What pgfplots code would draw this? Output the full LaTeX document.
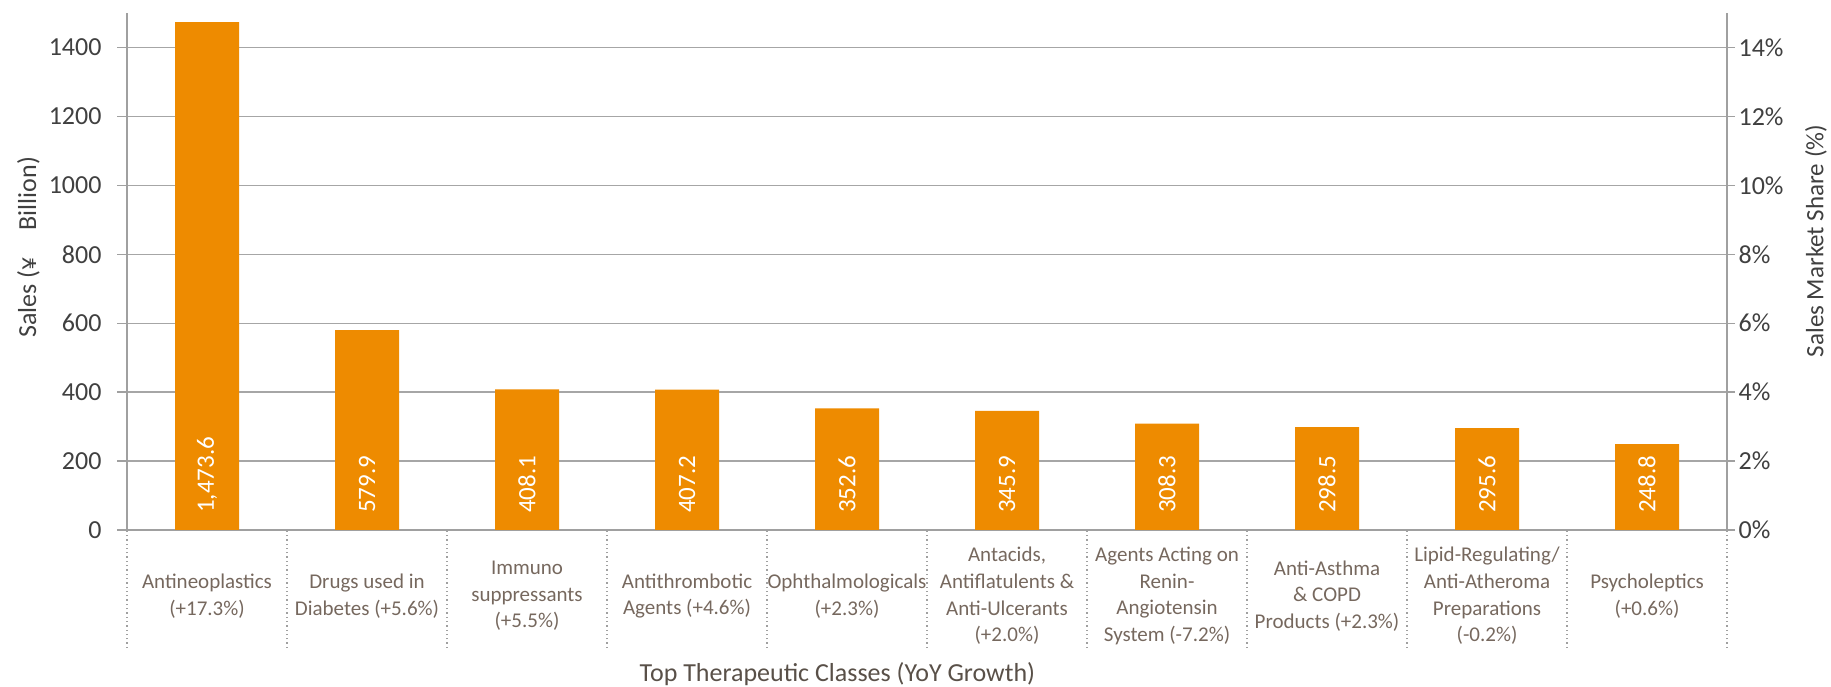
\documentclass[border=0pt]{standalone}
\usepackage{pgfplots}
\usepackage{pgfplotstable}
\pgfplotsset{compat=1.18}
\usepackage{fontspec}
\setmainfont{Carlito}
\definecolor{barorange}{RGB}{238,139,0}
\definecolor{gridgray}{RGB}{166,166,166}
\definecolor{axisgray}{RGB}{160,160,160}
\definecolor{tickgray}{RGB}{64,64,64}
\definecolor{catbrown}{RGB}{118,104,94}
\definecolor{titlebrown}{RGB}{89,80,72}
\pgfplotstableread{
x y
0 1473.6
1 579.9
2 408.1
3 407.2
4 352.6
5 345.9
6 308.3
7 298.5
8 295.6
9 248.8
}\datatable
\begin{document}
\begin{tikzpicture}
\useasboundingbox (0,0) rectangle (1831pt,687pt);
\begin{axis}[
  at={(127pt,157pt)}, anchor=south west,
  width=1600pt, height=517pt, scale only axis,
  xmin=-0.5, xmax=9.5, ymin=0, ymax=1500,
  axis x line*=bottom, axis y line*=left,
  axis line style={draw=axisgray, line width=1.3pt},
  ytick={0,200,...,1400},
  ymajorgrids, grid style={draw=gridgray, line width=1.3pt},
  tick align=outside,
  major tick length=10pt,
  ytick style={draw=axisgray, line width=1.3pt},
  yticklabel style={font=\fontsize{26}{30}\selectfont, text=tickgray, xshift=-12pt, /pgf/number format/1000 sep={}},
  /pgf/number format/assume math mode=true,
  xtick={0,...,9},
  xticklabels={
    {Antineoplastics\\(+17.3\%)},
    {Drugs used in\\Diabetes (+5.6\%)},
    {Immuno\\suppressants\\(+5.5\%)},
    {Antithrombotic\\Agents (+4.6\%)},
    {Ophthalmologicals\\(+2.3\%)},
    {Antacids,\\Antiflatulents \&\\Anti-Ulcerants\\(+2.0\%)},
    {Agents Acting on\\Renin-\\Angiotensin\\System (-7.2\%)},
    {Anti-Asthma\\\& COPD\\Products (+2.3\%)},
    {Lipid-Regulating/\\Anti-Atheroma\\Preparations\\(-0.2\%)},
    {Psycholeptics\\(+0.6\%)}},
  xtick style={draw=none},
  xticklabel style={font=\fontsize{21}{26.7}\selectfont, text=catbrown, align=center, anchor=center, yshift=-56pt},
  extra x ticks={-0.5,0.5,...,9.5},
  extra x tick labels={},
  extra x tick style={major tick length=118pt, xtick style={draw=axisgray, line width=1.3pt, dash pattern=on 1.3pt off 3pt}},
  xlabel={Top Therapeutic Classes (YoY Growth)},
  xlabel style={at={(rel axis cs:0.444,0)}, anchor=center, yshift=-144pt, font=\fontsize{26}{30}\selectfont, text=titlebrown},
  ylabel={Sales (¥\hspace{27pt}Billion)},
  every axis y label/.style={at={(rel axis cs:0,0.547)}, anchor=center, rotate=90, yshift=98.5pt, font=\fontsize{26}{30}\selectfont, text=tickgray},
]
\addplot[ybar, bar width=64pt, bar shift=0pt, fill=barorange, draw=none] table[x=x, y=y] {\datatable};
\addplot[draw=none, mark=none, point meta=explicit,
  nodes near coords={\pgfmathprintnumber[fixed,fixed zerofill,precision=1,1000 sep={,}]{\pgfplotspointmeta}},
  every node near coord/.append style={yshift=17pt, rotate=90, anchor=west, inner sep=0pt, text=white, font=\fontsize{25}{30}\selectfont}]
  table[x=x, y expr=0, meta=y] {\datatable};
\end{axis}
\begin{axis}[
  at={(127pt,157pt)}, anchor=south west,
  width=1600pt, height=517pt, scale only axis,
  xmin=-0.5, xmax=9.5, ymin=0, ymax=15,
  axis x line=none, axis y line*=right,
  axis line style={draw=axisgray, line width=1.3pt},
  tick align=outside, major tick length=8pt,
  ytick style={draw=axisgray, line width=1.3pt},
  ytick={0,2,...,14},
  yticklabel={\pgfmathprintnumber{\tick}\%},
  /pgf/number format/assume math mode=true,
  yticklabel style={font=\fontsize{26}{30}\selectfont, text=tickgray},
  ylabel={Sales Market Share (\%)},
  every axis y label/.style={at={(rel axis cs:1,0.559)}, anchor=center, rotate=90, yshift=-89pt, font=\fontsize{25}{30}\selectfont, text=tickgray},
]
\addplot[draw=none, mark=none] coordinates {(0,0)};
\end{axis}
\end{tikzpicture}
\end{document}
